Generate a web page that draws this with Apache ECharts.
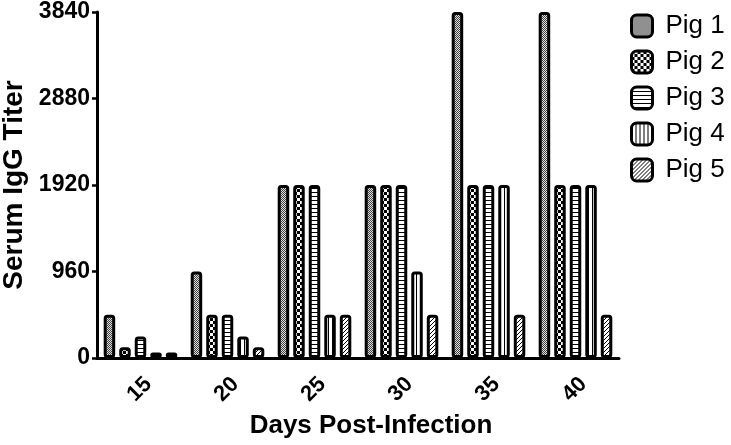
<!DOCTYPE html>
<html>
<head>
<meta charset="utf-8">
<script src="https://cdn.jsdelivr.net/npm/echarts@6/dist/echarts.min.js"></script>
<style>
  html, body { margin: 0; padding: 0; background: #fff; }
  #chart { width: 731px; height: 445px; }
</style>
</head>
<body>
<div id="chart"></div>
<script>
// data
var days = ['15', '20', '25', '30', '35', '40'];
var pigNames = ['Pig 1', 'Pig 2', 'Pig 3', 'Pig 4', 'Pig 5'];
var pig1 = [480, 960, 1920, 1920, 3840, 3840];
var pig2 = [120, 480, 1920, 1920, 1920, 1920];
var pig3 = [240, 480, 1920, 1920, 1920, 1920];
var pig4 = [60, 240, 480, 960, 1920, 1920];
var pig5 = [60, 120, 480, 480, 480, 480];
var yTicks = [0, 960, 1920, 2880, 3840];

// fill patterns, one per pig
function makePattern(kind) {
    var c = document.createElement('canvas');
    var ctx;
    if (kind === 'dots') {
        c.width = 2; c.height = 2;
        ctx = c.getContext('2d');
        ctx.fillStyle = '#ddd'; ctx.fillRect(0, 0, 2, 2);
        ctx.fillStyle = '#444'; ctx.fillRect(0, 0, 1, 1); ctx.fillRect(1, 1, 1, 1);
    } else if (kind === 'check') {
        c.width = 6; c.height = 6;
        ctx = c.getContext('2d');
        ctx.fillStyle = '#fff'; ctx.fillRect(0, 0, 6, 6);
        ctx.fillStyle = '#000'; ctx.fillRect(0, 0, 3, 3); ctx.fillRect(3, 3, 3, 3);
    } else if (kind === 'hline') {
        c.width = 4; c.height = 4;
        ctx = c.getContext('2d');
        ctx.fillStyle = '#fff'; ctx.fillRect(0, 0, 4, 4);
        ctx.fillStyle = '#000'; ctx.fillRect(0, 0, 4, 1);
    } else if (kind === 'vline') {
        c.width = 4; c.height = 4;
        ctx = c.getContext('2d');
        ctx.fillStyle = '#fff'; ctx.fillRect(0, 0, 4, 4);
        ctx.fillStyle = '#000'; ctx.fillRect(0, 0, 1, 4);
    } else {
        c.width = 4; c.height = 4;
        ctx = c.getContext('2d');
        ctx.fillStyle = '#fff'; ctx.fillRect(0, 0, 4, 4);
        ctx.fillStyle = '#000';
        ctx.fillRect(3, 0, 1, 1); ctx.fillRect(2, 1, 1, 1);
        ctx.fillRect(1, 2, 1, 1); ctx.fillRect(0, 3, 1, 1);
    }
    return { image: c, repeat: 'repeat' };
}

var patterns = ['dots', 'check', 'hline', 'vline', 'diag'];
var allData = [pig1, pig2, pig3, pig4, pig5];

var series = pigNames.map(function(name, i) {
    return {
        name: name,
        type: 'bar',
        data: allData[i],
        barWidth: 11.5,
        barGap: '35%',
        itemStyle: {
            color: makePattern(patterns[i]),
            borderColor: '#000',
            borderWidth: 3,
            borderRadius: 2
        }
    };
});

var myChart = echarts.init(document.getElementById('chart'));
var option = {
    animation: false,
    grid: { left: 97, top: 12, right: 112, bottom: 87, outerBoundsMode: 'none' },
    legend: {
        orient: 'vertical',
        left: 630,
        top: 13,
        padding: 0,
        itemWidth: 21,
        itemHeight: 22,
        itemGap: 10,
        data: pigNames,
        itemStyle: { borderColor: '#000', borderWidth: 3 },
        textStyle: { fontFamily: 'Liberation Sans', fontSize: 26, color: '#000', padding: [0, 0, 0, 8] }
    },
    xAxis: {
        type: 'category',
        data: days,
        name: 'Days Post-Infection',
        nameLocation: 'middle',
        nameGap: 55,
        nameTextStyle: { fontFamily: 'Liberation Sans', fontSize: 26, fontWeight: 'bold', color: '#000', padding: [0, 0, 0, 26] },
        axisLine: { lineStyle: { color: '#000', width: 3 } },
        axisTick: { alignWithLabel: true, length: 5, lineStyle: { color: '#000', width: 2.5 } },
        axisLabel: {
            rotate: 45, fontFamily: 'Liberation Sans', fontSize: 22, fontWeight: 'bold', color: '#000',
            margin: 15, align: 'right', verticalAlign: 'top'
        }
    },
    yAxis: {
        type: 'value',
        min: yTicks[0],
        max: yTicks[yTicks.length - 1],
        interval: 960,
        name: 'Serum IgG Titer',
        nameLocation: 'middle',
        nameGap: 68,
        nameTextStyle: { fontFamily: 'Liberation Sans', fontSize: 28, fontWeight: 'bold', color: '#000' },
        axisLine: { show: true, lineStyle: { color: '#000', width: 3 } },
        axisTick: { show: true, length: 5, lineStyle: { color: '#000', width: 2.5 } },
        splitLine: { show: false },
        axisLabel: {
            fontFamily: 'Liberation Sans', fontSize: 23, fontWeight: 'bold', color: '#000', margin: 7,
            formatter: function(v) { return String(v); }
        }
    },
    series: series
};
myChart.setOption(option);
</script>
</body>
</html>
